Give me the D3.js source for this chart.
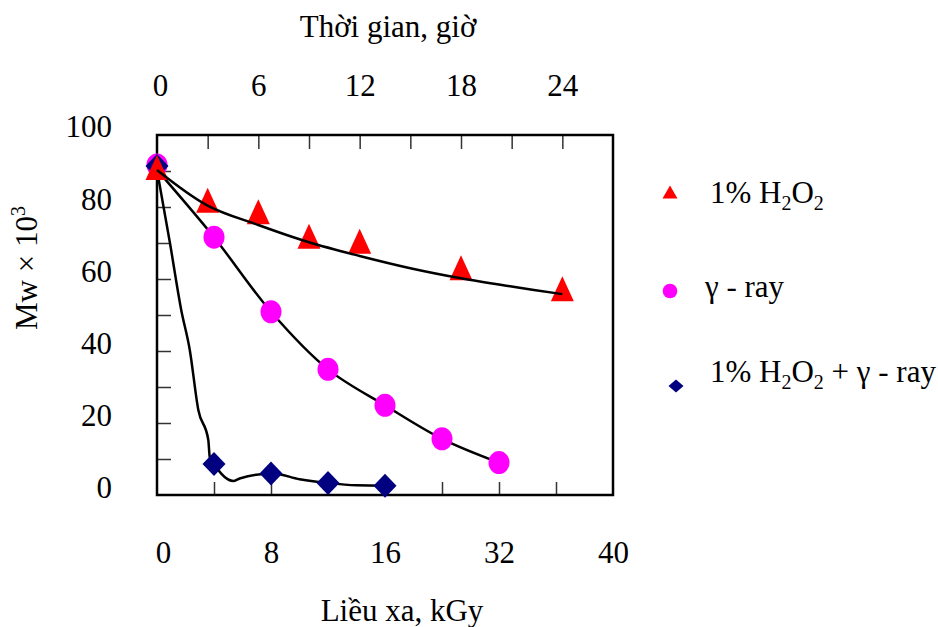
<!DOCTYPE html>
<html>
<head>
<meta charset="utf-8">
<script src="https://cdn.jsdelivr.net/npm/d3@7"></script>
<style>
  body { margin: 0; background: #fff; }
  svg text { font-family: "Liberation Serif", "Times New Roman", serif; fill: #000; }
</style>
</head>
<body>
<svg id="chart"></svg>
<script>
// tick labels
const timeTicks = [0, 6, 12, 18, 24];
const doseTicks = [0, 8, 16, 24, 32];
const doseTickLabels = ["0", "8", "16", "32", "40"];
const mwTicks = [0, 20, 40, 60, 80, 100];

// 1% H2O2 (time axis, hours)
const h2o2Hours = [0, 3, 6, 9, 12, 18, 24];
const h2o2Mw = [91, 81.9, 78.7, 71.9, 70.5, 63.1, 57.3];
const h2o2FitHours = [0, 3, 6, 9, 12, 15, 18, 21, 24];
const h2o2FitMw = [90.3, 80.4, 75.0, 70.2, 66.4, 63.0, 60.2, 57.9, 55.8];

// gamma-ray (dose axis, kGy)
const gammaDose = [0, 4, 8, 12, 16, 20, 24];
const gammaMw = [91.7, 71.6, 50.9, 34.9, 24.9, 15.6, 9.0];
const gammaFitDose = [0, 4, 8, 12, 16, 20, 24];
const gammaFitMw = [90.3, 71.6, 50.9, 34.9, 24.9, 15.6, 9.0];

// 1% H2O2 + gamma-ray
const comboDose = [0, 4, 8, 12, 16];
const comboMw = [91.4, 8.6, 6.0, 3.3, 2.6];
const comboFitDose = [0, 0.9, 1.7, 2.3, 2.9, 3.6, 3.7, 4, 5.35, 5.8, 8.1, 10, 12.05, 14, 16.1];
const comboFitMw = [90.3, 70.2, 51.4, 40.3, 23.6, 15.3, 10.6, 8.6, 3.9, 4.6, 6.0, 4.4, 3.3, 2.7, 2.6];

const width = 938;
const height = 627;
const plotLeft = 157, plotRight = 613, plotTop = 135, plotBottom = 495;

const svg = d3.select("#chart").attr("width", width).attr("height", height);

const xTime = d3.scaleLinear().domain([0, 27]).range([plotLeft, plotRight]);
const xDose = d3.scaleLinear().domain([0, 32]).range([plotLeft, plotRight]);
const y = d3.scaleLinear().domain([0, 100]).range([plotBottom, plotTop]);
// the value labels sit a bit off the ticks in the original
const yLabel = d3.scaleLinear().domain([0, 100]).range([488, 127]);

const zip = (xs, ys) => xs.map((d, i) => [d, ys[i]]);

const triPath = (w, h) => `M0,${-h / 2}L${w / 2},${h / 2}L${-w / 2},${h / 2}Z`;
const diaPath = (w, h) => `M0,${-h / 2}L${w / 2},0L0,${h / 2}L${-w / 2},0Z`;

const styleTicks = (g) => {
  g.select(".domain").remove();
  g.selectAll("line").attr("stroke", "#333").attr("stroke-width", 1.5);
};

// inner ticks
svg.append("g")
  .attr("transform", `translate(0,${plotTop})`)
  .call(d3.axisBottom(xTime).tickValues(d3.range(3, 25, 3)).tickSize(14).tickFormat(""))
  .call(styleTicks);

svg.append("g")
  .attr("transform", `translate(0,${plotBottom})`)
  .call(d3.axisTop(xDose).tickValues(d3.range(4, 29, 4)).tickSize(13).tickFormat(""))
  .call(styleTicks);

svg.append("g")
  .attr("transform", `translate(${plotLeft},0)`)
  .call(d3.axisRight(y).tickValues(d3.range(10, 91, 10)).tickSize(14).tickFormat(""))
  .call(styleTicks);

// tick labels
const topAxis = svg.append("g")
  .attr("transform", `translate(0,${plotTop})`)
  .call(d3.axisTop(xTime).tickValues(timeTicks).tickSize(0).tickFormat(d3.format("d")));
topAxis.select(".domain").remove();
topAxis.selectAll("text").attr("y", -39).attr("dy", "0").attr("font-size", 31)
  .attr("dx", (d) => (d === 0 ? 3 : 0));

const bottomAxis = svg.append("g")
  .attr("transform", `translate(0,${plotBottom})`)
  .call(d3.axisBottom(xDose).tickValues(doseTicks).tickSize(0)
    .tickFormat((d, i) => doseTickLabels[i]));
bottomAxis.select(".domain").remove();
bottomAxis.selectAll("text").attr("y", 68).attr("dy", "0").attr("font-size", 31)
  .attr("dx", (d) => (d === 0 ? 6 : 0));

const leftAxis = svg.append("g")
  .attr("transform", `translate(${plotLeft},0)`)
  .call(d3.axisLeft(yLabel).tickValues(mwTicks).tickSize(0).tickPadding(45));
leftAxis.select(".domain").remove();
leftAxis.selectAll("text").attr("font-size", 31);

// frame
svg.append("rect")
  .attr("x", plotLeft).attr("y", plotTop)
  .attr("width", plotRight - plotLeft).attr("height", plotBottom - plotTop)
  .attr("fill", "none").attr("stroke", "#000").attr("stroke-width", 2.5);

// axis titles
svg.append("text")
  .attr("x", 388).attr("y", 37)
  .attr("text-anchor", "middle").attr("font-size", 31)
  .text("Thời gian, giờ");

svg.append("text")
  .attr("x", 402).attr("y", 621)
  .attr("text-anchor", "middle").attr("font-size", 31)
  .text("Liều xa, kGy");

const yTitle = svg.append("text")
  .attr("transform", "translate(37,268) rotate(-90)")
  .attr("text-anchor", "middle").attr("font-size", 31);
yTitle.append("tspan").text("Mw × 10");
yTitle.append("tspan").attr("font-size", 20).attr("dy", -12).text("3");

const line = (xs) => d3.line().x((d) => xs(d[0])).y((d) => y(d[1])).curve(d3.curveCatmullRom);
const monoLine = (xs) => d3.line().x((d) => xs(d[0])).y((d) => y(d[1])).curve(d3.curveMonotoneX);

// gamma-ray
svg.append("path")
  .attr("d", line(xDose)(zip(gammaFitDose, gammaFitMw)))
  .attr("fill", "none").attr("stroke", "#000").attr("stroke-width", 2.5);
svg.selectAll(".gamma")
  .data(zip(gammaDose, gammaMw))
  .enter()
  .append("ellipse")
  .attr("class", "gamma")
  .attr("cx", (d) => xDose(d[0]))
  .attr("cy", (d) => y(d[1]))
  .attr("rx", 10.5).attr("ry", 11.5)
  .attr("fill", "#FF00FF");

// combined
svg.append("path")
  .attr("d", monoLine(xDose)(zip(comboFitDose, comboFitMw)))
  .attr("fill", "none").attr("stroke", "#000").attr("stroke-width", 2.5);
svg.selectAll(".combo")
  .data(zip(comboDose, comboMw))
  .enter()
  .append("path")
  .attr("class", "combo")
  .attr("d", diaPath(23, 24))
  .attr("transform", (d) => `translate(${xDose(d[0])},${y(d[1])})`)
  .attr("fill", "#000080");

// 1% H2O2
svg.selectAll(".h2o2")
  .data(zip(h2o2Hours, h2o2Mw))
  .enter()
  .append("path")
  .attr("class", "h2o2")
  .attr("d", triPath(23, 25))
  .attr("transform", (d) => `translate(${xTime(d[0])},${y(d[1])})`)
  .attr("fill", "#FF0000");
svg.append("path")
  .attr("d", line(xTime)(zip(h2o2FitHours, h2o2FitMw)))
  .attr("fill", "none").attr("stroke", "#000").attr("stroke-width", 2.5);

// legend
const legend = svg.append("g");
legend.append("path").attr("d", triPath(15, 13))
  .attr("transform", "translate(670,192)").attr("fill", "#FF0000");
legend.append("ellipse").attr("cx", 670).attr("cy", 291).attr("rx", 7.3).attr("ry", 7.3)
  .attr("fill", "#FF00FF");
legend.append("path").attr("d", diaPath(15, 13))
  .attr("transform", "translate(676,386)").attr("fill", "#000080");

const h2o2Label = (t, x, yy, extra) => {
  t.attr("x", x).attr("y", yy).attr("font-size", 31);
  t.append("tspan").text("1% H");
  t.append("tspan").attr("font-size", 20).attr("dy", 7).text("2");
  t.append("tspan").attr("dy", -7).text("O");
  t.append("tspan").attr("font-size", 20).attr("dy", 7).text("2");
  if (extra) t.append("tspan").attr("dy", -7).text(extra);
};
h2o2Label(legend.append("text"), 710, 203);
legend.append("text").attr("x", 705).attr("y", 297).attr("font-size", 31).text("γ - ray");
h2o2Label(legend.append("text"), 710, 382, " + γ - ray");
</script>
</body>
</html>
